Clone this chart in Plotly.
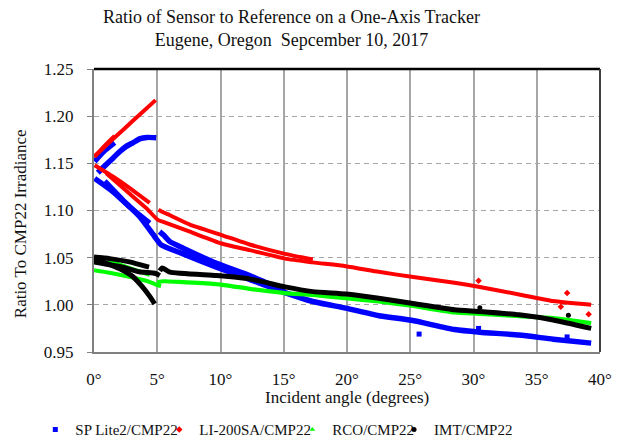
import plotly.graph_objects as go

# ---------------- data ----------------
# SP Lite2 / CMP22 (blue)
sp_rise_x = [0.3, 0.9, 1.5, 2.0, 2.55, 3.1, 3.6, 4.2, 4.92]
sp_rise_y = [1.140, 1.148, 1.1555, 1.162, 1.168, 1.172, 1.176, 1.1775, 1.177]
sp_short_x = [0.05, 0.8, 1.63]
sp_short_y = [1.152, 1.163, 1.172]
sp_desc1_x = [0.05, 1.49, 2.8, 4.4]
sp_desc1_y = [1.134, 1.120, 1.104, 1.0866]
sp_main_x = [0.84, 2.28, 3.6, 4.79, 5.3, 7.05, 9.68, 12.3, 15.1, 17.3, 19.9, 22.5, 25.1, 28.5, 30.5, 33.6, 36.3, 39.3]
sp_main_y = [1.131, 1.111, 1.0936, 1.0724, 1.0636, 1.054, 1.040, 1.027, 1.013, 1.0035, 0.9965, 0.9885, 0.9836, 0.9738, 0.971, 0.968, 0.9636, 0.9594]
sp_post5_x = [5.18, 5.5, 6.0, 7.05, 9.68, 12.3, 15.1]
sp_post5_y = [1.0777, 1.074, 1.067, 1.060, 1.044, 1.031, 1.015]
sp_out_x = [25.7, 30.4, 37.4]
sp_out_y = [0.969, 0.975, 0.966]

# LI-200SA / CMP22 (red)
li_rise_x = [0.0, 1.2, 2.42, 3.6, 4.87]
li_rise_y = [1.157, 1.172, 1.187, 1.2015, 1.217]
li_short_x = [0.05, 0.8, 1.63]
li_short_y = [1.157, 1.168, 1.179]
li_desc1_x = [0.05, 1.49, 2.8, 4.4]
li_desc1_y = [1.148, 1.136, 1.124, 1.108]
li_main_x = [0.97, 2.8, 4.13, 5.05, 5.47, 7.58, 10.08, 12.3, 15.1, 17.3, 19.9, 22.5, 25.1, 28.5, 30.5, 33.6, 36.3, 39.3]
li_main_y = [1.1395, 1.118, 1.1025, 1.090, 1.088, 1.0775, 1.065, 1.058, 1.049, 1.045, 1.041, 1.035, 1.0297, 1.0235, 1.019, 1.011, 1.004, 1.000]
li_post5_x = [5.1, 5.34, 6.0, 7.58, 10.08, 12.3, 15.1, 17.3]
li_post5_y = [1.101, 1.099, 1.095, 1.085, 1.074, 1.064, 1.054, 1.048]
li_out_x = [30.4, 37.4, 36.9, 39.1]
li_out_y = [1.0255, 1.0125, 0.998, 0.990]

# RCO / CMP22 (green)
rco_a_x = [0.0, 1.24, 2.8, 4.35, 5.0, 5.3]
rco_a_y = [1.0367, 1.034, 1.0297, 1.0245, 1.021, 1.020]
rco_b_x = [0.0, 1.76, 3.0, 4.4]
rco_b_y = [1.0455, 1.0437, 1.038, 1.032]
rco_main_x = [5.0, 5.5, 7.05, 9.68, 12.3, 15.1, 17.3, 19.9, 22.5, 25.1, 28.5, 30.5, 33.6, 36.3, 39.3]
rco_main_y = [1.024, 1.025, 1.024, 1.022, 1.017, 1.0125, 1.0105, 1.007, 1.0035, 0.999, 0.992, 0.9905, 0.988, 0.986, 0.9806]

# IMT / CMP22 (black)
imt_a_x = [0.0, 1.0, 2.0, 3.06, 3.83, 4.35, 4.8]
imt_a_y = [1.049, 1.044, 1.0385, 1.030, 1.019, 1.010, 1.001]
imt_b_x = [0.0, 1.24, 2.8, 4.35]
imt_b_y = [1.0507, 1.049, 1.0455, 1.040]
imt_c_x = [0.0, 2.28, 3.58, 4.87, 5.2]
imt_c_y = [1.0455, 1.040, 1.035, 1.0332, 1.031]
imt_main_x = [5.2, 5.4, 6.0, 9.68, 12.3, 15.1, 17.3, 19.9, 22.5, 25.1, 28.5, 30.5, 33.6, 36.3, 39.3]
imt_main_y = [1.036, 1.039, 1.0346, 1.031, 1.0275, 1.019, 1.014, 1.0115, 1.007, 1.0017, 0.9948, 0.993, 0.9894, 0.984, 0.975]
imt_out_x = [30.5, 37.5]
imt_out_y = [0.997, 0.989]

x_ticks = [0, 5, 10, 15, 20, 25, 30, 35, 40]
x_tick_labels = ["0°", "5°", "10°", "15°", "20°", "25°", "30°", "35°", "40°"]
y_ticks = [0.95, 1.00, 1.05, 1.10, 1.15, 1.20, 1.25]

series = [
    ("SP Lite2/CMP22", "#0000FF", "square", 5.5,
     [(sp_rise_x, sp_rise_y), (sp_short_x, sp_short_y), (sp_desc1_x, sp_desc1_y),
      (sp_main_x, sp_main_y), (sp_post5_x, sp_post5_y)], (sp_out_x, sp_out_y)),
    ("LI-200SA/CMP22", "#FF0000", "diamond", 4,
     [(li_rise_x, li_rise_y), (li_short_x, li_short_y), (li_desc1_x, li_desc1_y),
      (li_main_x, li_main_y), (li_post5_x, li_post5_y)], (li_out_x, li_out_y)),
    ("RCO/CMP22", "#00FF00", "triangle-up", 4.2,
     [(rco_b_x, rco_b_y), (rco_a_x, rco_a_y), (rco_main_x, rco_main_y)], ([], [])),
    ("IMT/CMP22", "#000000", "circle", 5,
     [(imt_a_x, imt_a_y), (imt_b_x, imt_b_y), (imt_c_x, imt_c_y),
      (imt_main_x, imt_main_y)], (imt_out_x, imt_out_y)),
]

FONT = "Liberation Serif"
TXT = "#111111"
fig = go.Figure()

for name, color, sym, lw, branches, outl in series:
    for bx, by in branches:
        fig.add_trace(go.Scatter(x=bx, y=by, mode="lines", showlegend=False,
                                 line=dict(color=color, width=lw, shape="spline", smoothing=0.5),
                                 hoverinfo="skip"))
    if outl[0]:
        fig.add_trace(go.Scatter(x=outl[0], y=outl[1], mode="markers", showlegend=False,
                                 marker=dict(color=color, symbol=sym, size=5), hoverinfo="skip"))

legend_ids = ["legend", "legend2", "legend3", "legend4"]
legend_x = [-0.116, 0.129, 0.392, 0.593]
for (name, color, sym, lw, branches, outl), lid in zip(series, legend_ids):
    fig.add_trace(go.Scatter(x=[None], y=[None], mode="markers", name=name, legend=lid,
                             marker=dict(color=color, symbol=sym, size=5)))

legend_common = dict(orientation="h", xanchor="left", y=-0.275, yanchor="middle",
                     font=dict(family=FONT, size=15, color=TXT),
                     itemwidth=30, bgcolor="rgba(0,0,0,0)")

# the page adds an 8 px body margin, so the figure is laid out 8 px up/left
fig.update_layout(
    width=625, height=447,
    margin=dict(l=86, r=33, t=61, b=103, autoexpand=False),
    paper_bgcolor="white", plot_bgcolor="white",
    font=dict(family=FONT, size=17, color=TXT),
    showlegend=True,
    xaxis=dict(range=[0, 40], tickvals=x_ticks, ticktext=x_tick_labels,
               showgrid=True, gridcolor="#A6A6A6", gridwidth=1.5,
               showline=True, linecolor="#808080", linewidth=2,
               ticks="", ticklabelstandoff=11, zeroline=False,
               tickfont=dict(family=FONT, size=17, color=TXT)),
    yaxis=dict(range=[0.95, 1.25], tickvals=y_ticks, tickformat=".2f",
               showgrid=True, gridcolor="#A6A6A6", gridwidth=1.2, griddash="5px,4px",
               showline=True, linecolor="#808080", linewidth=2,
               ticks="outside", ticklen=5, tickcolor="#808080", tickwidth=1,
               ticklabelstandoff=10, zeroline=False,
               tickfont=dict(family=FONT, size=17, color=TXT)),
    shapes=[
        dict(type="line", xref="paper", yref="paper", x0=0, x1=1, y0=1, y1=1,
             line=dict(color="#000000", width=2.5)),
        dict(type="line", xref="paper", yref="paper", x0=1, x1=1, y0=0, y1=1,
             line=dict(color="#404040", width=2)),
    ],
    annotations=[
        dict(text="Ratio of Sensor to Reference on a One-Axis Tracker<br>Eugene, Oregon\u00a0\u00a0Sepcember 10, 2017",
             xref="paper", yref="paper", x=0.3913, y=1.142, xanchor="center", yanchor="middle",
             showarrow=False, font=dict(family=FONT, size=18, color=TXT)),
        dict(text="Ratio To CMP22 Irradiance", textangle=-90,
             xref="paper", yref="paper", x=-0.146, y=0.452, xanchor="center", yanchor="middle",
             showarrow=False, font=dict(family=FONT, size=17, color=TXT)),
        dict(text="Incident angle (degrees)",
             xref="paper", yref="paper", x=0.5, y=-0.1625, xanchor="center", yanchor="middle",
             showarrow=False, font=dict(family=FONT, size=17, color=TXT)),
    ],
)
for lid, lx in zip(legend_ids, legend_x):
    fig.update_layout({lid: dict(legend_common, x=lx)})

fig.write_html("out.html")
